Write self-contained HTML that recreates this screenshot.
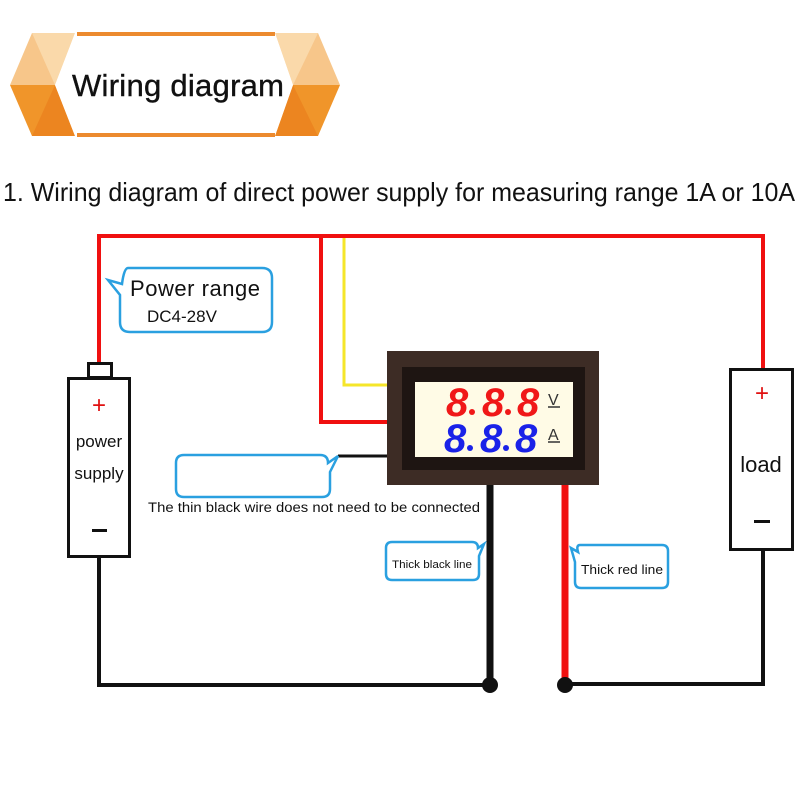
<!DOCTYPE html>
<html><head><meta charset="utf-8"><style>
html,body{margin:0;padding:0;background:#fff;}
svg{display:block;font-family:"Liberation Sans",sans-serif;}
</style></head><body>
<svg width="800" height="800" viewBox="0 0 800 800" xmlns="http://www.w3.org/2000/svg">
<!-- header banner -->
<polygon points="32,33 75,33 55,85 10,85" fill="#f7c68a"/>
<polygon points="10,85 55,85 75,136 32,136" fill="#f0952a"/>
<polygon points="32,33 75,33 55,85" fill="#fad9aa"/>
<polygon points="55,85 75,136 32,136" fill="#ec8520"/>
<polygon points="275,33 318,33 340,85 293,85" fill="#f7c68a"/>
<polygon points="293,85 340,85 318,136 275,136" fill="#f0952a"/>
<polygon points="318,33 275,33 293,85" fill="#fad9aa"/>
<polygon points="293,85 275,136 318,136" fill="#ec8520"/>
<polygon points="75,33 275,33 293,85 275,136 75,136 55,85" fill="#fff"/>
<rect x="77" y="32" width="198" height="4" fill="#ec8a2e"/>
<rect x="77" y="133" width="198" height="4" fill="#ec8a2e"/>
<text x="72" y="96" font-size="31" fill="#111" textLength="212" stroke="#111" stroke-width="0.4">Wiring diagram</text>
<text x="3" y="201" font-size="26" fill="#111" textLength="792" lengthAdjust="spacingAndGlyphs">1. Wiring diagram of direct power supply for measuring range 1A or 10A</text>

<!-- red wires -->
<g fill="none" stroke="#f01010" stroke-width="4">
<polyline points="99,364 99,236 763,236 763,370"/>
<polyline points="321,236 321,422 389,422"/>
</g>
<polyline points="344,238 344,385 389,385" fill="none" stroke="#f5e62a" stroke-width="3"/>
<line x1="338" y1="456" x2="389" y2="456" stroke="#111" stroke-width="3"/>

<!-- meter -->
<rect x="387" y="351" width="212" height="134" fill="#3d2c25"/>
<rect x="402" y="367" width="183" height="103" fill="#1e1512"/>
<rect x="415" y="382" width="158" height="75" fill="#fffbe6"/>
<g font-style="italic" font-size="40" font-weight="bold">
<g fill="#f01818">
<text x="446" y="416">8</text><text x="482" y="416">8</text><text x="517" y="416">8</text>
<circle cx="472" cy="412" r="3"/><circle cx="508" cy="412" r="3"/>
</g>
<g fill="#1a22e8">
<text x="444" y="452">8</text><text x="480" y="452">8</text><text x="515" y="452">8</text>
<circle cx="470" cy="448" r="3"/><circle cx="506" cy="448" r="3"/>
</g>
</g>
<text x="548" y="405" font-size="16" fill="#333">V</text>
<line x1="548" y1="407" x2="560" y2="407" stroke="#333" stroke-width="1.5"/>
<text x="548" y="440" font-size="16" fill="#333">A</text>
<line x1="548" y1="442" x2="560" y2="442" stroke="#333" stroke-width="1.5"/>

<!-- bottom wires -->
<polyline points="99,557 99,685 490,685" fill="none" stroke="#111" stroke-width="4"/>
<line x1="490" y1="485" x2="490" y2="685" stroke="#111" stroke-width="7"/>
<line x1="565" y1="485" x2="565" y2="685" stroke="#f01010" stroke-width="7"/>
<polyline points="565,684 763,684 763,549" fill="none" stroke="#111" stroke-width="4"/>
<circle cx="490" cy="685" r="8" fill="#111"/>
<circle cx="565" cy="685" r="8" fill="#111"/>

<!-- battery -->
<rect x="88.5" y="363.5" width="23" height="14" fill="#fff" stroke="#111" stroke-width="3"/>
<rect x="68.5" y="378.5" width="61" height="178" fill="#fff" stroke="#111" stroke-width="3"/>
<text x="99" y="413" font-size="24" fill="#e01010" text-anchor="middle">+</text>
<text x="99" y="447" font-size="17" fill="#111" text-anchor="middle">power</text>
<text x="99" y="479" font-size="17" fill="#111" text-anchor="middle">supply</text>
<rect x="92" y="529" width="15" height="3" fill="#111"/>

<!-- load -->
<rect x="730.5" y="369.5" width="62" height="180" fill="#fff" stroke="#111" stroke-width="3"/>
<text x="762" y="401" font-size="24" fill="#e01010" text-anchor="middle">+</text>
<text x="761" y="472" font-size="22" fill="#111" text-anchor="middle">load</text>
<rect x="754" y="520" width="16" height="3" fill="#111"/>

<!-- callouts -->
<g fill="#fff" stroke="#2aa0e0" stroke-width="2.5">
<path d="M128,268 H262 Q272,268 272,278 V322 Q272,332 262,332 H130 Q120,332 120,322 V295 L108,280 L122,284 Q124,268 128,268 Z"/>
<path d="M184,455 H320 Q328,455 328,463 L338,456 L330,472 V489 Q330,497 322,497 H184 Q176,497 176,489 V463 Q176,455 184,455 Z"/>
<path d="M392,542 H472 Q478,542 478,548 L484,544 L479,556 V574 Q479,580 473,580 H392 Q386,580 386,574 V548 Q386,542 392,542 Z"/>
<path d="M580,545 H662 Q668,545 668,551 V582 Q668,588 662,588 H581 Q575,588 575,582 V562 L571,548 L578,552 Q576,545 580,545 Z"/>
</g>
<text x="130" y="296" font-size="22" fill="#111" textLength="130">Power range</text>
<text x="147" y="322" font-size="17" fill="#111">DC4-28V</text>
<text x="148" y="512" font-size="13.5" fill="#111" textLength="332" lengthAdjust="spacingAndGlyphs">The thin black wire does not need to be connected</text>
<text x="392" y="568" font-size="11" fill="#111" textLength="80" lengthAdjust="spacingAndGlyphs">Thick black line</text>
<text x="581" y="574" font-size="13" fill="#111" textLength="82" lengthAdjust="spacingAndGlyphs">Thick red line</text>
</svg>
</body></html>
